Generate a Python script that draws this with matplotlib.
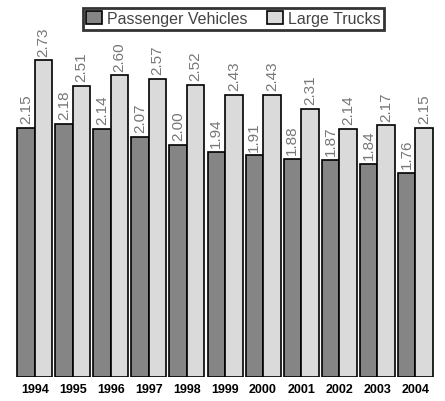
import matplotlib
matplotlib.use('Agg')
import matplotlib.pyplot as plt
import numpy as np

plt.rcParams['font.family'] = ['Liberation Sans', 'DejaVu Sans']

years = ['1994', '1995', '1996', '1997', '1998', '1999', '2000', '2001', '2002', '2003', '2004']
passenger = [2.15, 2.18, 2.14, 2.07, 2.00, 1.94, 1.91, 1.88, 1.87, 1.84, 1.76]
trucks = [2.73, 2.51, 2.60, 2.57, 2.52, 2.43, 2.43, 2.31, 2.14, 2.17, 2.15]

fig = plt.figure(figsize=(4.45, 4.02), dpi=100)
ax = fig.add_axes([15/445, 24/402, 420/445, 377/402])

x = np.arange(len(years))
w = 0.46
b1 = ax.bar(x - w/2, passenger, w, color='#858585', edgecolor='black', linewidth=1.2, label='Passenger Vehicles')
b2 = ax.bar(x + w/2, trucks, w, color='#dadada', edgecolor='black', linewidth=1.2, label='Large Trucks')

for bars, vals in ((b1, passenger), (b2, trucks)):
    for r, v in zip(bars, vals):
        ax.text(r.get_x() + r.get_width()/2, v + 0.04, f'{v:.2f}', rotation=90,
                ha='center', va='bottom', fontsize=11, color='#777777')

ax.set_xlim(-0.52, len(years) - 0.48)
ax.set_ylim(0, 3.25)
ax.set_xticks(x)
ax.set_xticklabels(years, fontweight='bold', fontsize=9)
ax.tick_params(axis='x', length=0, pad=4)
ax.set_yticks([])
for s in ax.spines.values():
    s.set_visible(False)

leg = ax.legend(loc='upper center', bbox_to_anchor=(0.52, 1.0), ncol=2, fontsize=11.5,
                frameon=True, fancybox=False, edgecolor='black', handlelength=1.0,
                handleheight=0.9, handletextpad=0.3, columnspacing=1.2, borderpad=0.2)
leg.get_frame().set_linewidth(2)
for t in leg.get_texts():
    t.set_color('#444444')

fig.savefig('out.png', dpi=100)
